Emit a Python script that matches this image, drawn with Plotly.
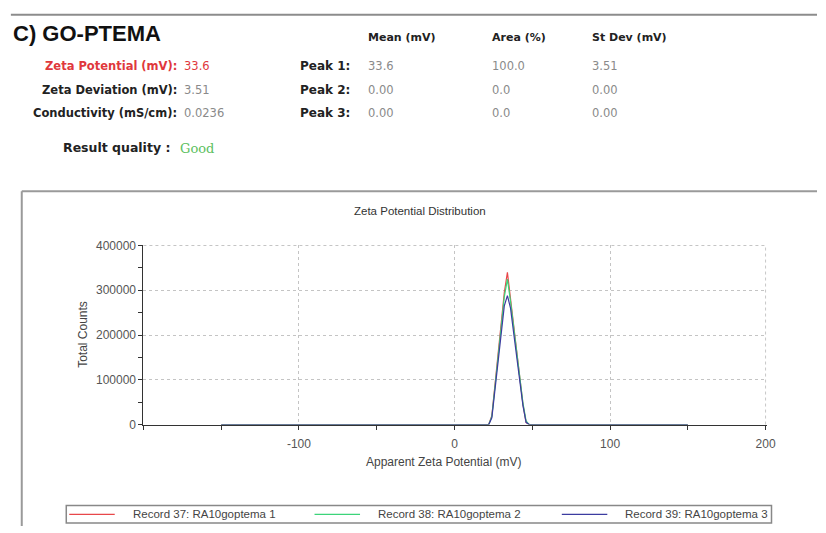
import plotly.graph_objects as go

W, H = 826, 533

# ---- measurement data -------------------------------------------------------
zeta_mv = [-150, 20, 22, 24, 26, 28, 30, 32, 34, 36, 38, 40, 42, 44, 46, 48, 150]
counts_rec37 = [0, 0, 0, 20000, 85000, 155000, 225000, 295000, 340000, 280000,
                220000, 160000, 100000, 45000, 5000, 0, 0]
counts_rec38 = [0, 0, 0, 18000, 80000, 150000, 218000, 285000, 325000, 275000,
                215000, 158000, 100000, 48000, 8000, 0, 0]
counts_rec39 = [0, 0, 0, 15000, 75000, 140000, 205000, 265000, 288000, 260000,
                205000, 150000, 95000, 42000, 5000, 0, 0]

record_names = ["Record 37: RA10goptema 1",
                "Record 38: RA10goptema 2",
                "Record 39: RA10goptema 3"]
record_colors = ["#e8474a", "#3cd47a", "#3c3ca0"]

x_ticks = [-100, 0, 100, 200]
y_ticks = [0, 100000, 200000, 300000, 400000]

summary_labels = ["Zeta Potential (mV):", "Zeta Deviation (mV):", "Conductivity (mS/cm):"]
summary_values = ["33.6", "3.51", "0.0236"]
peak_labels = ["Peak 1:", "Peak 2:", "Peak 3:"]
peak_mean = ["33.6", "0.00", "0.00"]
peak_area = ["100.0", "0.0", "0.0"]
peak_sd = ["3.51", "0.00", "0.00"]
col_headers = ["Mean (mV)", "Area (%)", "St Dev (mV)"]


def px(x):
    return x / W


def py(y):
    return 1 - y / H


fig = go.Figure()
for name, color, ys in zip(record_names, record_colors,
                           [counts_rec37, counts_rec38, counts_rec39]):
    fig.add_trace(go.Scatter(x=zeta_mv, y=ys, mode="lines", name=name,
                             line=dict(color=color, width=1.2),
                             showlegend=False))

ann = []
shapes = []

BOLD = "DejaVu Sans"
LABEL_DARK = "#222222"
VALUE_GREY = "#8a8a8a"
GRID = dict(color="#c4c4c4", width=1, dash="dot")

# report heading
ann.append(dict(text="<b>C) GO-PTEMA</b>", x=px(11), y=py(28), xanchor="left",
                yanchor="middle", font=dict(family="Liberation Sans, Arial", size=22,
                                            color="#111111")))

# column headers
for txt, x0 in zip(col_headers, [370, 495, 597]):
    ann.append(dict(text=f"<b>{txt}</b>", x=px(x0), y=py(32), xanchor="left",
                    yanchor="middle", font=dict(family=BOLD, size=11, color=LABEL_DARK)))

rows_y = [61, 86, 110]
for i, yy in enumerate(rows_y):
    lab_color = "#e0383c" if i == 0 else LABEL_DARK
    val_color = "#e0383c" if i == 0 else VALUE_GREY
    ann.append(dict(text=f"<b>{summary_labels[i]}</b>", x=px(181), y=py(yy),
                    xanchor="right", yanchor="middle",
                    font=dict(family=BOLD, size=11.5, color=lab_color)))
    ann.append(dict(text=summary_values[i], x=px(184), y=py(yy), xanchor="left",
                    yanchor="middle", font=dict(family=BOLD, size=11.5, color=val_color)))
    ann.append(dict(text=f"<b>{peak_labels[i]}</b>", x=px(356), y=py(yy),
                    xanchor="right", yanchor="middle",
                    font=dict(family=BOLD, size=12, color=LABEL_DARK)))
    for vals, x0 in zip([peak_mean, peak_area, peak_sd], [370, 495, 597]):
        ann.append(dict(text=vals[i], x=px(x0), y=py(yy), xanchor="left",
                        yanchor="middle", font=dict(family=BOLD, size=11.5,
                                                    color=VALUE_GREY)))

ann.append(dict(text="<b>Result quality :</b>", x=px(174), y=py(145), xanchor="right",
                yanchor="middle", font=dict(family=BOLD, size=12.5, color=LABEL_DARK)))
ann.append(dict(text="Good", x=px(180), y=py(146), xanchor="left", yanchor="middle",
                font=dict(family="DejaVu Serif", size=13, color="#5cc060")))

# chart titles
ann.append(dict(text="Zeta Potential Distribution", x=px(425), y=py(210),
                xanchor="center", yanchor="middle",
                font=dict(family="Liberation Sans, Arial", size=11.5, color="#333333")))
ann.append(dict(text="Total Counts", x=px(84), y=py(337), xanchor="center",
                yanchor="middle", textangle=-90,
                font=dict(family="Liberation Sans, Arial", size=12, color="#444444")))
ann.append(dict(text="Apparent Zeta Potential (mV)", x=px(448), y=py(467),
                xanchor="center", yanchor="middle",
                font=dict(family="Liberation Sans, Arial", size=12, color="#444444")))

# legend box
LEG_Y = 521
shapes.append(dict(type="rect", xref="paper", yref="paper", x0=px(67), x1=px(780),
                   y0=py(LEG_Y + 9), y1=py(LEG_Y - 9),
                   line=dict(color="#888888", width=1.5)))
for name, color, x0 in zip(record_names, record_colors, [68, 316, 566]):
    shapes.append(dict(type="line", xref="paper", yref="paper", x0=px(x0 + 2),
                       x1=px(x0 + 48), y0=py(LEG_Y), y1=py(LEG_Y),
                       line=dict(color=color, width=1.2)))
    ann.append(dict(text=name, x=px(x0 + 64), y=py(LEG_Y), xanchor="left",
                    yanchor="middle",
                    font=dict(family="Liberation Sans, Arial", size=11.5, color="#444444")))

# grid lines along the top and right edges of the plot area
shapes.append(dict(type="line", xref="x domain", yref="y", x0=0, x1=1,
                   y0=y_ticks[-1], y1=y_ticks[-1], line=GRID, layer="below"))
shapes.append(dict(type="line", xref="x", yref="y domain", x0=x_ticks[-1],
                   x1=x_ticks[-1], y0=0, y1=1, line=GRID, layer="below"))

# page rule and chart frame
shapes.append(dict(type="line", xref="paper", yref="paper", x0=px(11), x1=1,
                   y0=py(9), y1=py(9), line=dict(color="#8c8c8c", width=2)))
shapes.append(dict(type="line", xref="paper", yref="paper", x0=px(22), x1=1,
                   y0=py(190), y1=py(190), line=dict(color="#9a9a9a", width=2)))
shapes.append(dict(type="line", xref="paper", yref="paper", x0=px(22), x1=px(22),
                   y0=py(190), y1=0, line=dict(color="#9a9a9a", width=2)))

for a in ann:
    a.setdefault("xref", "paper")
    a.setdefault("yref", "paper")
    a.setdefault("showarrow", False)

fig.update_layout(
    width=W, height=H,
    margin=dict(l=0, r=0, t=0, b=0),
    paper_bgcolor="white", plot_bgcolor="white",
    annotations=ann, shapes=shapes,
    xaxis=dict(domain=[px(145), px(775)], range=[-200, 200.6],
               tickvals=x_ticks, ticktext=[str(v) for v in x_ticks],
               showline=True, linecolor="#333333", linewidth=1,
               ticks="outside", ticklen=4, tickcolor="#333333",
               minor=dict(dtick=50, tick0=0, ticks="outside", ticklen=4,
                          tickcolor="#333333", showgrid=False),
               showgrid=True, gridcolor="#c4c4c4", griddash="dot", gridwidth=1,
               zeroline=False, ticklabelstandoff=4,
               tickfont=dict(family="Liberation Sans, Arial", size=12, color="#555555")),
    yaxis=dict(domain=[py(429), py(245)], range=[0, 401000],
               tickvals=y_ticks, ticktext=[str(v) for v in y_ticks],
               showline=True, linecolor="#333333", linewidth=1,
               ticks="outside", ticklen=4, tickcolor="#333333",
               minor=dict(dtick=50000, tick0=0, ticks="outside", ticklen=4,
                          tickcolor="#333333", showgrid=False),
               showgrid=True, gridcolor="#c4c4c4", griddash="dot", gridwidth=1,
               zeroline=False,
               tickfont=dict(family="Liberation Sans, Arial", size=12, color="#555555")),
)

fig.write_html("out.html")
